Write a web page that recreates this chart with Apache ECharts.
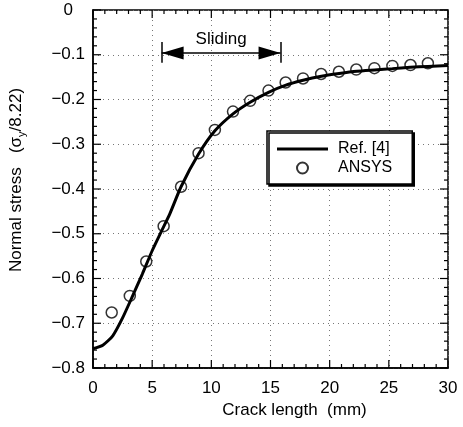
<!DOCTYPE html>
<html>
<head>
<meta charset="utf-8">
<script src="https://cdn.jsdelivr.net/npm/echarts@6/dist/echarts.min.js"></script>
<style>
  html, body { margin: 0; padding: 0; background: #fff; }
  #chart { width: 463px; height: 427px; }
</style>
</head>
<body>
<div id="chart"></div>
<script>
// Ref. [4] curve (crack length mm, normalised stress)
const refX = [0, 0.83, 1.67, 2.5, 3.33, 4.17, 5, 5.83, 6.5, 7.44, 8.92, 10.3, 11.83, 13.28, 14.83, 16.3, 17.75, 19.3, 20.8, 22.3, 23.8, 25.3, 26.8, 28.3, 30];
const refY = [-0.757, -0.749, -0.728, -0.688, -0.64, -0.59, -0.538, -0.492, -0.455, -0.395, -0.322, -0.27, -0.232, -0.206, -0.184, -0.168, -0.157, -0.148, -0.142, -0.137, -0.134, -0.131, -0.128, -0.126, -0.124];
// ANSYS points
const ansysX = [1.58, 3.11, 4.5, 5.97, 7.44, 8.92, 10.3, 11.83, 13.28, 14.83, 16.28, 17.75, 19.28, 20.78, 22.25, 23.78, 25.3, 26.83, 28.3];
const ansysY = [-0.676, -0.639, -0.562, -0.483, -0.395, -0.32, -0.268, -0.227, -0.203, -0.18, -0.162, -0.153, -0.143, -0.138, -0.133, -0.13, -0.125, -0.123, -0.119];
// "Sliding" range annotation
const slidingRange = [5.8, 15.85];
const slidingY = -0.096;
const slidingBar = [-0.0715, -0.118];
// tick marks (major every 5 mm / 0.1, minor every 1 mm / 0.02)
const xMajorTicks = [0, 5, 10, 15, 20, 25, 30];
const xMinorTicks = [1, 2, 3, 4, 6, 7, 8, 9, 11, 12, 13, 14, 16, 17, 18, 19, 21, 22, 23, 24, 26, 27, 28, 29];
const yMajorTicks = [-0.8, -0.7, -0.6, -0.5, -0.4, -0.3, -0.2, -0.1, 0];
const yMinorTicks = [-0.78, -0.76, -0.74, -0.72, -0.68, -0.66, -0.64, -0.62, -0.58, -0.56, -0.54, -0.52, -0.48, -0.46, -0.44, -0.42, -0.38, -0.36, -0.34, -0.32, -0.28, -0.26, -0.24, -0.22, -0.18, -0.16, -0.14, -0.12, -0.08, -0.06, -0.04, -0.02];

const xMin = 0, xMax = 30, yMin = -0.8, yMax = 0;
const font = '"Liberation Sans", Arial, Helvetica, sans-serif';
const chart = echarts.init(document.getElementById("chart"));

const dotted = { show: true, lineStyle: { color: "#777", width: 1, type: [1, 4] } };
const tickLine = (x1, y1, x2, y2) => ({
  type: "line",
  shape: { x1, y1, x2, y2 },
  style: { stroke: "#000", lineWidth: 1.2 },
});

// ticks on all four sides, pointing inward
function tickSeries(vals, len, isX) {
  return {
    type: "custom",
    silent: true,
    clip: false,
    z: 6,
    data: vals.map((v) => (isX ? [v, yMin] : [xMin, v])),
    renderItem: (params, api) => {
      if (isX) {
        const v = api.value(0);
        const b = api.coord([v, yMin]);
        const t = api.coord([v, yMax]);
        return { type: "group", children: [tickLine(b[0], b[1], b[0], b[1] - len), tickLine(t[0], t[1], t[0], t[1] + len)] };
      }
      const v = api.value(1);
      const l = api.coord([xMin, v]);
      const r = api.coord([xMax, v]);
      return { type: "group", children: [tickLine(l[0], l[1], l[0] + len, l[1]), tickLine(r[0], r[1], r[0] - len, r[1])] };
    },
  };
}

const options = {
  animation: false,
  grid: { left: 88, right: 15, top: 10, bottom: 59, show: true, borderColor: "#000", borderWidth: 1.5 },
  xAxis: {
    type: "value",
    min: xMin,
    max: xMax,
    interval: 5,
    axisLine: { show: true, onZero: false, lineStyle: { color: "#000", width: 1.5 } },
    axisTick: { show: false },
    splitLine: dotted,
    axisLabel: { color: "#000", fontSize: 17, fontFamily: font, margin: 12 },
    name: "Crack length  (mm)",
    nameLocation: "middle",
    nameGap: 32,
    nameTextStyle: { color: "#000", fontSize: 17, fontFamily: font, padding: [0, 0, 0, 48] },
  },
  yAxis: {
    type: "value",
    min: yMin,
    max: yMax,
    interval: 0.1,
    axisLine: { show: true, onZero: false, lineStyle: { color: "#000", width: 1.5 } },
    axisTick: { show: false },
    splitLine: dotted,
    axisLabel: {
      color: "#000",
      fontSize: 17,
      fontFamily: font,
      margin: 8,
      formatter: (v) => (Math.abs(v) < 1e-9 ? "{z|0}" : v.toFixed(1).replace("-", "\u2212")),
      rich: { z: { fontSize: 17, fontFamily: font, color: "#000", padding: [0, 12, 0, 0] } },
    },
    name: "Normal stress   (\u03c3{sub|y}/8.22)",
    nameLocation: "middle",
    nameGap: 66,
    nameTextStyle: {
      color: "#000",
      fontSize: 17,
      fontFamily: font,
      padding: [0, 0, 0, 18],
      rich: { sub: { fontSize: 11, fontFamily: font, color: "#000", padding: [10, 0, 0, 0] } },
    },
  },
  legend: {
    orient: "vertical",
    left: 267,
    top: 131,
    data: [
      { name: "Ref. [4]", icon: "path://M0,0 L51,0 L51,3 L0,3 Z" },
      { name: "ANSYS" },
    ],
    itemWidth: 51,
    itemHeight: 11,
    itemGap: 3,
    padding: [10, 20, 8, 10],
    backgroundColor: "#fff",
    borderColor: "#000",
    borderWidth: 1.5,
    borderRadius: 0,
    shadowColor: "#000",
    shadowBlur: 0,
    shadowOffsetX: 2,
    shadowOffsetY: 2,
    textStyle: { color: "#000", fontSize: 16, fontFamily: font, padding: [0, 0, 0, 5] },
  },
  series: [
    {
      name: "Ref. [4]",
      type: "line",
      data: refX.map((x, i) => [x, refY[i]]),
      symbol: "none",
      smooth: 0.2,
      lineStyle: { color: "#000", width: 3 },
      itemStyle: { color: "#000" },
      z: 3,
    },
    {
      name: "ANSYS",
      type: "scatter",
      data: ansysX.map((x, i) => [x, ansysY[i]]),
      symbol: "circle",
      symbolSize: 11,
      itemStyle: { color: "rgba(255,255,255,0)", borderColor: "#000", borderWidth: 1.5 },
      z: 4,
    },
    tickSeries(xMajorTicks, 8, true),
    tickSeries(xMinorTicks, 4, true),
    tickSeries(yMajorTicks, 8, false),
    tickSeries(yMinorTicks, 4, false),
    {
      name: "sliding",
      type: "line",
      data: [],
      markLine: {
        silent: true,
        symbol: ["triangle", "triangle"],
        symbolSize: [13, 22],
        symbolOffset: [[0, 11], [0, 11]],
        lineStyle: { color: "#000", width: 1.5, type: "solid" },
        label: {
          show: true,
          position: "middle",
          formatter: "Sliding",
          color: "#000",
          fontSize: 17,
          fontFamily: font,
          distance: 5,
        },
        data: [[{ coord: [slidingRange[0], slidingY] }, { coord: [slidingRange[1], slidingY] }]],
      },
    },
    {
      name: "slidingBars",
      type: "line",
      data: [],
      markLine: {
        silent: true,
        symbol: ["none", "none"],
        lineStyle: { color: "#000", width: 1.5, type: "solid" },
        label: { show: false },
        data: slidingRange.map((x) => [{ coord: [x, slidingBar[0]] }, { coord: [x, slidingBar[1]] }]),
      },
    },
  ],
};
chart.setOption(options);
</script>
</body>
</html>
